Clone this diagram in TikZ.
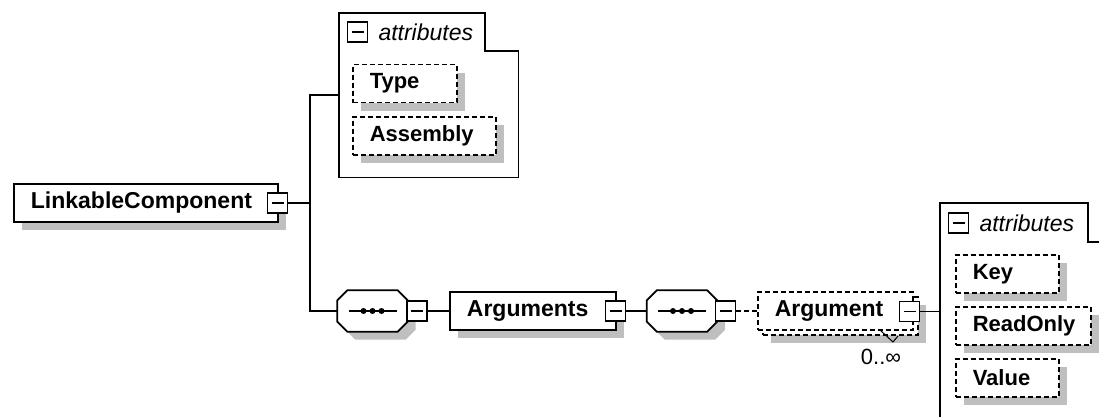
\documentclass[tikz,border=0pt]{standalone}
\usepackage{fontspec}
\setmainfont{Liberation Sans}
\usetikzlibrary{positioning,shadows}

% outline of a sequence compositor round a node
\newcommand{\octpath}[1]{([xshift=10pt]#1.north west) -- ([xshift=-10pt]#1.north east)
  -- ([yshift=-10pt]#1.north east) -- ([yshift=10pt]#1.south east)
  -- ([xshift=-10pt]#1.south east) -- ([xshift=10pt]#1.south west)
  -- ([yshift=10pt]#1.south west) -- ([yshift=-10pt]#1.north west) -- cycle}
\newcommand{\drawseq}[1]{%
  \fill[black!25, transform canvas={shift={(8pt,-8pt)}}] \octpath{#1};
  \draw[line width=1.8pt, fill=white] \octpath{#1};
  \draw[line width=1.6pt] ([xshift=-24pt]#1.center) -- ([xshift=24pt]#1.center);
  \foreach \dx in {-9,0,9}
    \fill ([xshift=\dx pt]#1.center) circle (3pt);}

\begin{document}
\begin{tikzpicture}[x=1pt,y=-1pt]
    \tikzset{%
      elem/.style={draw, fill=white, line width=1.8pt, inner xsep=17pt,
        inner ysep=0pt, minimum height=38pt, align=left, anchor=west,
        font=\fontsize{23}{27}\selectfont\bfseries},
      attr/.style={elem, line width=1.5pt, dash pattern=on 5pt off 3pt,
        font=\fontsize{22}{26}\selectfont\bfseries},
      gshadow/.style={drop shadow={shadow xshift=8pt, shadow yshift=-8pt,
        fill=black!25, opacity=1}},
      expander/.style={draw, fill=white, line width=1.6pt, minimum size=20pt,
        inner sep=0pt, path picture={\draw[line width=1.8pt]
        ([xshift=4pt]path picture bounding box.west) --
        ([xshift=-4pt]path picture bounding box.east);}},
      seqbox/.style={inner sep=0pt, minimum width=70pt, minimum height=41pt},
      grp/.style={inner sep=0pt, anchor=north west},
      grplabel/.style={inner sep=0pt, font=\fontsize{23}{27}\selectfont\itshape},
      link/.style={line width=1.8pt},
    }
    \useasboundingbox (0,0) rectangle (1099,416);
    \clip (0,0) rectangle (1099,416);

    % root element
    \node[elem, gshadow, text width=230pt] (lc) at (13,203) {LinkableComponent};
    \node[expander] (lcx) at (277.5,203) {};
    \coordinate (fork) at (310,203);

    % attributes of the root
    \node[grp, minimum width=179pt, minimum height=164pt] (attA) at (339,13) {};
    \draw[link] (attA.north west) -- ++(146,0) -- ++(0,38) -| (attA.south east)
      -- (attA.south west) -- cycle;
    \node[expander] (attAx) at (357.5,32) {};
    \node[grplabel, right=10pt of attAx] (attAt) {attributes};
    \node[attr, gshadow, text width=70pt] (type) at (352,83.5) {Type};
    \node[attr, gshadow, text width=109pt] (asm) at (352,136) {Assembly};

    \draw[link] (lcx.east) -- (fork);
    \draw[link] (fork) |- (attA.west);

    % sequence -> Arguments
    \node[seqbox] (seq1) at (372.5,311) {};
    \drawseq{seq1}
    \node[expander] (seq1x) at (417,311) {};
    \node[elem, gshadow, text width=132pt] (args) at (449,311) {Arguments};
    \node[expander] (argsx) at (615.5,311) {};

    \draw[link] (fork) |- (seq1.west);
    \draw[link] (seq1x.east) -- (args.west);

    % sequence -> Argument (0..unbounded)
    \node[seqbox] (seq2) at (682,311) {};
    \drawseq{seq2}
    \node[expander] (seq2x) at (725.5,311) {};
    \node[attr, gshadow, minimum width=155pt] (argback) at (762,316) {};
    \node[attr, text width=121pt, font=\fontsize{23}{27}\selectfont\bfseries]
      (arg) at (757,311) {Argument};
    \node[expander] (argx) at (909.5,311.5) {};
    \node[font=\fontsize{22}{26}\selectfont] (argcard) at (881,357) {0..∞};
    \draw[line width=1pt] (880,330) -- (893,342) -- (898,336);

    \draw[link] (argsx.east) -- (seq2.west);
    \draw[line width=1.5pt, dash pattern=on 5pt off 3pt] (seq2x.east) -- (arg.west);

    % attributes of Argument
    \node[grp, minimum width=200pt, minimum height=218pt] (attB) at (940,203) {};
    \draw[link] (attB.north west) -- ++(148,0) -- ++(0,39) -| (attB.south east)
      -- (attB.south west) -- cycle;
    \node[expander] (attBx) at (958.5,223) {};
    \node[grplabel, right=10pt of attBx] (attBt) {attributes};
    \node[attr, gshadow, text width=69pt] (key) at (955,274) {Key};
    \node[attr, gshadow, text width=101pt] (ro) at (955,326) {ReadOnly};
    \node[attr, gshadow, text width=69pt] (val) at (955,378) {Value};

    \draw[link] (argx.east) -- (argx.east -| attB.west);
  \end{tikzpicture}
\end{document}
